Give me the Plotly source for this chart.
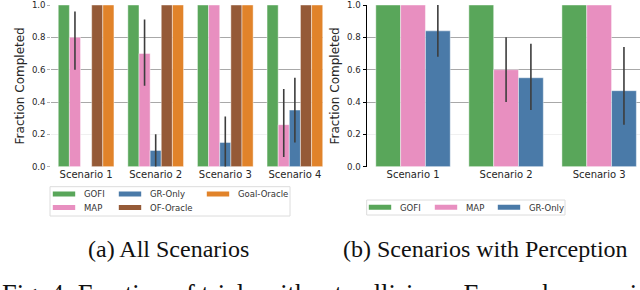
import plotly.graph_objects as go

# ---------------- data ----------------
scen_a = ["Scenario 1", "Scenario 2", "Scenario 3", "Scenario 4"]
methods_a = ["GOFI", "MAP", "GR-Only", "OF-Oracle", "Goal-Oracle"]
vals_a = {
    "GOFI":        [1.00, 1.00, 1.00, 1.00],
    "MAP":         [0.80, 0.70, 1.00, 0.26],
    "GR-Only":     [0.00, 0.10, 0.15, 0.35],
    "OF-Oracle":   [1.00, 1.00, 1.00, 1.00],
    "Goal-Oracle": [1.00, 1.00, 1.00, 1.00],
}
hi_a = {
    "GOFI":        [1.00, 1.00, 1.00, 1.00],
    "MAP":         [0.96, 0.91, 1.00, 0.48],
    "GR-Only":     [0.00, 0.20, 0.31, 0.55],
    "OF-Oracle":   [1.00, 1.00, 1.00, 1.00],
    "Goal-Oracle": [1.00, 1.00, 1.00, 1.00],
}
lo_a = {
    "GOFI":        [1.00, 1.00, 1.00, 1.00],
    "MAP":         [0.60, 0.50, 1.00, 0.06],
    "GR-Only":     [0.00, 0.00, 0.00, 0.15],
    "OF-Oracle":   [1.00, 1.00, 1.00, 1.00],
    "Goal-Oracle": [1.00, 1.00, 1.00, 1.00],
}

scen_b = ["Scenario 1", "Scenario 2", "Scenario 3"]
methods_b = ["GOFI", "MAP", "GR-Only"]
vals_b = {
    "GOFI":    [1.00, 1.00, 1.00],
    "MAP":     [1.00, 0.60, 1.00],
    "GR-Only": [0.84, 0.55, 0.47],
}
hi_b = {
    "GOFI":    [1.00, 1.00, 1.00],
    "MAP":     [1.00, 0.80, 1.00],
    "GR-Only": [1.00, 0.76, 0.74],
}
lo_b = {
    "GOFI":    [1.00, 1.00, 1.00],
    "MAP":     [1.00, 0.40, 1.00],
    "GR-Only": [0.68, 0.35, 0.26],
}

y_ticks = [0.0, 0.2, 0.4, 0.6, 0.8, 1.0]
y_strong_grid = [0.4, 0.6, 0.8]
y_label = "Fraction Completed"
caption_a = "(a) All Scenarios"
caption_b = "(b) Scenarios with Perception"
caption_fig = "Fig. 4: Fraction of trials without collisions. For each scenario"

colors = {
    "GOFI": "#59a65a",
    "MAP": "#e88fc0",
    "GR-Only": "#4a7aa8",
    "OF-Oracle": "#955a37",
    "Goal-Oracle": "#e1832a",
}

W, H = 640, 290
def px(x):
    return x / W
def py(y):
    return 1 - y / H

fig = go.Figure()

err_style = dict(type="data", symmetric=False, color="#3d3d3d", thickness=1.6, width=0)
bar_line = dict(color="rgba(255,255,255,0.55)", width=0.8)

for m in methods_a:
    v = vals_a[m]
    fig.add_trace(go.Bar(
        x=scen_a, y=v, name=m, marker=dict(color=colors[m], line=bar_line),
        error_y=dict(array=[h - a for h, a in zip(hi_a[m], v)],
                     arrayminus=[a - l for a, l in zip(v, lo_a[m])], **err_style),
        xaxis="x", yaxis="y", showlegend=False, offsetgroup=m,
    ))
for m in methods_b:
    v = vals_b[m]
    fig.add_trace(go.Bar(
        x=scen_b, y=v, name=m, marker=dict(color=colors[m], line=bar_line),
        error_y=dict(array=[h - a for h, a in zip(hi_b[m], v)],
                     arrayminus=[a - l for a, l in zip(v, lo_b[m])], **err_style),
        xaxis="x2", yaxis="y2", showlegend=False, offsetgroup=m,
    ))

# legend entries (single-item legends placed like matplotlib's column layout)
legend_specs = [
    ("GOFI", 44, 194), ("MAP", 44, 207.5),
    ("GR-Only", 110, 194), ("OF-Oracle", 110, 207.5),
    ("Goal-Oracle", 198, 194),
    ("GOFI", 360, 207.3), ("MAP", 426, 207.3), ("GR-Only", 489, 207.3),
]
legend_layout = {}
for i, (m, lx, ly) in enumerate(legend_specs):
    key = "legend" if i == 0 else f"legend{i + 1}"
    fig.add_trace(go.Scatter(
        x=[None], y=[None], mode="markers", name=m,
        marker=dict(symbol="line-ew", size=16, color=colors[m],
                    line=dict(color=colors[m], width=5)),
        showlegend=True, legend=key, xaxis="x", yaxis="y",
    ))
    legend_layout[key] = dict(
        x=px(lx), y=py(ly), xanchor="left", yanchor="middle",
        bgcolor="rgba(0,0,0,0)", borderwidth=0,
        font=dict(family="DejaVu Sans", size=8.5, color="#333333"),
        itemclick=False, itemdoubleclick=False,
    )

tickfont_x = dict(family="DejaVu Sans", size=10, color="#262626")
tickfont_y = dict(family="DejaVu Sans", size=8.6, color="#262626")
titlefont = dict(family="DejaVu Sans", size=12, color="#262626")

def yaxis_common(**kw):
    d = dict(domain=[py(166.7), py(5)], range=[0, 1], tickvals=y_ticks, automargin=False,
             tickformat=".1f", showgrid=True, gridcolor="rgba(0,0,0,0.06)", gridwidth=1,
             minor=dict(tickvals=y_strong_grid, showgrid=True, gridcolor="#b3b3b3",
                        gridwidth=1, ticks=""),
             zeroline=False, ticks="outside", ticklen=3, tickfont=tickfont_y,
             title=dict(text=y_label, font=titlefont, standoff=4), fixedrange=True)
    d.update(kw)
    return d

fig.update_layout(
    width=W, height=H,
    margin=dict(l=0, r=0, t=0, b=0, autoexpand=False),
    paper_bgcolor="white", plot_bgcolor="white",
    barmode="group", bargap=0.2, bargroupgap=0,
    hovermode=False,
    xaxis=dict(domain=[px(51.3), px(323)], range=[-0.5, 3.404], automargin=False,
               showgrid=False, showline=False, ticks="", tickfont=tickfont_x,
               zeroline=False, fixedrange=True),
    yaxis=yaxis_common(showline=False, tickcolor="#b3b3b3"),
    xaxis2=dict(domain=[px(366.5), 1.0], range=[-0.5, 2.439], anchor="y2", automargin=False,
                showgrid=False, showline=False, ticks="", tickfont=tickfont_x,
                zeroline=False, fixedrange=True),
    yaxis2=yaxis_common(anchor="x2", showline=True, linecolor="black", linewidth=1,
                        tickcolor="black"),
    shapes=[
        dict(type="rect", xref="paper", yref="paper",
             x0=px(50), x1=px(290), y0=py(216), y1=py(186.7),
             line=dict(color="#dcdcdc", width=1), fillcolor="rgba(0,0,0,0)"),
        dict(type="rect", xref="paper", yref="paper",
             x0=px(366.7), x1=px(565), y0=py(215), y1=py(200),
             line=dict(color="#dcdcdc", width=1), fillcolor="rgba(0,0,0,0)"),
    ],
    annotations=[
        dict(text=caption_a, x=px(168), y=py(249), xref="paper", yref="paper",
             xanchor="center", yanchor="middle", showarrow=False,
             font=dict(family="Liberation Serif", size=24, color="#111111")),
        dict(text=caption_b, x=px(485), y=py(249), xref="paper", yref="paper",
             xanchor="center", yanchor="middle", showarrow=False,
             font=dict(family="Liberation Serif", size=24, color="#111111")),
        dict(text=caption_fig, x=px(0), y=py(276.5), xref="paper", yref="paper",
             xanchor="left", yanchor="top", showarrow=False,
             font=dict(family="Liberation Serif", size=26.5, color="#111111")),
    ],
    **legend_layout,
)

fig.write_html("out.html", config={"displayModeBar": False, "staticPlot": True},
               post_script="document.body.style.margin='0';document.body.style.overflow='hidden';")
